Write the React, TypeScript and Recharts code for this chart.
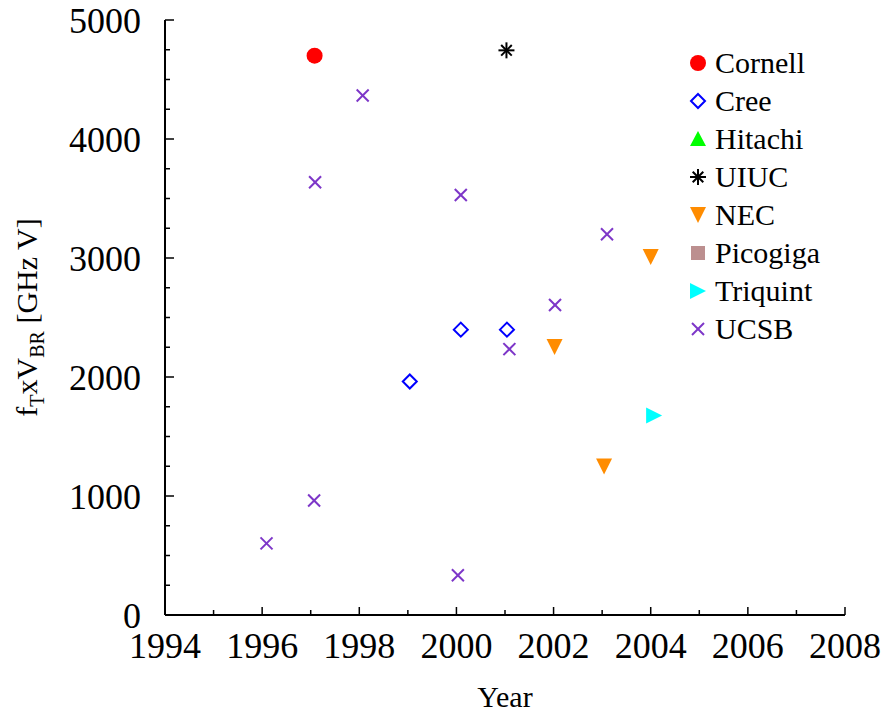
import React from "react";
import { ScatterChart, Scatter, XAxis, YAxis, Legend } from "recharts";

// Device results: year of report vs. fT x VBR product (GHz V)
const cornell = [{ x: 1997.08, y: 4700 }];
const cree = [
  { x: 1999.04, y: 1962 },
  { x: 2000.09, y: 2398 },
  { x: 2001.04, y: 2398 },
];
const hitachi: { x: number; y: number }[] = [];
const uiuc = [{ x: 2001.03, y: 4745 }];
const nec = [
  { x: 2002.02, y: 2253 },
  { x: 2003.04, y: 1248 },
  { x: 2004.0, y: 3008 },
];
const picogiga: { x: number; y: number }[] = [];
const triquint = [{ x: 2004.07, y: 1677 }];
const ucsb = [
  { x: 1996.09, y: 602 },
  { x: 1997.07, y: 962 },
  { x: 1997.09, y: 3636 },
  { x: 1998.07, y: 4366 },
  { x: 2000.03, y: 334 },
  { x: 2000.09, y: 3530 },
  { x: 2001.09, y: 2234 },
  { x: 2002.03, y: 2605 },
  { x: 2003.1, y: 3200 },
];

const yearTicks = [1994, 1995, 1996, 1997, 1998, 1999, 2000, 2001, 2002, 2003, 2004, 2005, 2006, 2007, 2008];
const valueTicks = [0, 250, 500, 750, 1000, 1250, 1500, 1750, 2000, 2250, 2500, 2750, 3000, 3250, 3500, 3750, 4000, 4250, 4500, 4750, 5000];

type Kind = "circle" | "diamond" | "triUp" | "star" | "triDown" | "square" | "triRight" | "cross";

const SERIES: { name: string; data: { x: number; y: number }[]; kind: Kind; color: string }[] = [
  { name: "Cornell", data: cornell, kind: "circle", color: "#ff0000" },
  { name: "Cree", data: cree, kind: "diamond", color: "#0000ff" },
  { name: "Hitachi", data: hitachi, kind: "triUp", color: "#00ff00" },
  { name: "UIUC", data: uiuc, kind: "star", color: "#000000" },
  { name: "NEC", data: nec, kind: "triDown", color: "#ff8c00" },
  { name: "Picogiga", data: picogiga, kind: "square", color: "#bc8f8f" },
  { name: "Triquint", data: triquint, kind: "triRight", color: "#00ffff" },
  { name: "UCSB", data: ucsb, kind: "cross", color: "#7d36c8" },
];

const FONT = "Liberation Serif, Times New Roman, serif";
const serif = (size: number): React.CSSProperties => ({ fontFamily: FONT, fontSize: size });

function marker(kind: Kind, cx: number, cy: number, color: string) {
  const s = 8;
  switch (kind) {
    case "circle":
      return <circle cx={cx} cy={cy} r={s} fill={color} />;
    case "diamond":
      return (
        <polygon
          points={`${cx},${cy - s + 1} ${cx + s - 1},${cy} ${cx},${cy + s - 1} ${cx - s + 1},${cy}`}
          fill="none"
          stroke={color}
          strokeWidth={2}
        />
      );
    case "triUp":
      return <polygon points={`${cx},${cy - s} ${cx + s},${cy + s - 1} ${cx - s},${cy + s - 1}`} fill={color} />;
    case "triDown":
      return <polygon points={`${cx - s},${cy - s} ${cx + s},${cy - s} ${cx},${cy + s}`} fill={color} />;
    case "triRight":
      return <polygon points={`${cx - s},${cy - s} ${cx + s},${cy} ${cx - s},${cy + s}`} fill={color} />;
    case "square":
      return <rect x={cx - 7} y={cy - 7} width={14} height={14} fill={color} />;
    case "star": {
      const d = 5.3;
      return (
        <g stroke={color} strokeWidth={2}>
          <line x1={cx} y1={cy - s} x2={cx} y2={cy + s} />
          <line x1={cx - s} y1={cy} x2={cx + s} y2={cy} />
          <line x1={cx - d} y1={cy - d} x2={cx + d} y2={cy + d} />
          <line x1={cx - d} y1={cy + d} x2={cx + d} y2={cy - d} />
        </g>
      );
    }
    case "cross":
    default:
      return (
        <g stroke={color} strokeWidth={2}>
          <line x1={cx - 6} y1={cy - 6} x2={cx + 6} y2={cy + 6} />
          <line x1={cx - 6} y1={cy + 6} x2={cx + 6} y2={cy - 6} />
        </g>
      );
  }
}

const BottomTick = (props: any) => {
  const { x, y, payload } = props;
  const v = payload.value as number;
  const major = v % 2 === 0;
  return (
    <g>
      <line x1={x} x2={x} y1={y} y2={y - (major ? 8 : 5)} stroke="#000" strokeWidth={1.5} />
      {major && (
        <text x={x} y={y + 43} textAnchor="middle" style={serif(36)} fill="#000">
          {v}
        </text>
      )}
    </g>
  );
};

const TopTick = (props: any) => {
  const { x, y, payload } = props;
  const major = (payload.value as number) % 2 === 0;
  return <line x1={x} x2={x} y1={y} y2={y + (major ? 8 : 5)} stroke="#000" strokeWidth={1.5} />;
};

const LeftTick = (props: any) => {
  const { x, y, payload } = props;
  const v = payload.value as number;
  const major = v % 1000 === 0;
  return (
    <g>
      <line x1={x} x2={x + (major ? 9 : 5)} y1={y} y2={y} stroke="#000" strokeWidth={1.5} />
      {major && (
        <text x={x - 24} y={y + 13} textAnchor="end" style={serif(36)} fill="#000">
          {v}
        </text>
      )}
    </g>
  );
};

const RightTick = (props: any) => {
  const { x, y, payload } = props;
  const major = (payload.value as number) % 1000 === 0;
  return <line x1={x} x2={x - (major ? 9 : 5)} y1={y} y2={y} stroke="#000" strokeWidth={1.5} />;
};

const YTitle = (props: any) => {
  const vb = props.viewBox || { x: 0, y: 20, width: 165, height: 595 };
  const cx = vb.x + 37;
  const cy = vb.y + vb.height / 2;
  return (
    <text
      x={cx}
      y={cy}
      transform={`rotate(-90, ${cx}, ${cy})`}
      textAnchor="middle"
      style={serif(30)}
      fill="#000"
    >
      f
      <tspan style={serif(20)} dy={7}>T</tspan>
      <tspan style={serif(30)} dy={-7}>x</tspan>
      <tspan style={serif(30)}>V</tspan>
      <tspan style={serif(20)} dy={7}>BR</tspan>
      <tspan style={serif(30)} dy={-7}> [GHz V]</tspan>
    </text>
  );
};

const XTitle = (props: any) => {
  const vb = props.viewBox || { x: 165, y: 615, width: 680, height: 101 };
  return (
    <text x={vb.x + vb.width / 2} y={vb.y + 92} textAnchor="middle" style={serif(30)} fill="#000">
      Year
    </text>
  );
};

const LegendBox = () => (
  <svg width={180} height={310} style={{ display: "block" }}>
    {SERIES.map((s, i) => {
      const cy = 23 + i * 38;
      return (
        <g key={s.name}>
          {marker(s.kind, 18, cy, s.color)}
          <text x={35} y={cy + 10} style={serif(30)} fill="#000">
            {s.name}
          </text>
        </g>
      );
    })}
  </svg>
);

export default function App() {
  return (
    <div style={{ position: "absolute", left: 0, top: 0, background: "#fff" }}>
      <ScatterChart width={882} height={716} margin={{ top: 20, right: 37, bottom: 0, left: 0 }}>
        <XAxis
          type="number"
          dataKey="x"
          domain={[1994, 2008]}
          ticks={yearTicks}
          interval={0}
          height={101}
          tickSize={0}
          tickMargin={0}
          tickLine={false}
          axisLine={{ stroke: "#000", strokeWidth: 2 }}
          tick={<BottomTick />}
          allowDataOverflow
          label={<XTitle />}
        />
        <XAxis
          xAxisId="top"
          orientation="top"
          type="number"
          dataKey="x"
          domain={[1994, 2008]}
          ticks={yearTicks}
          interval={0}
          height={0}
          tickSize={0}
          tickMargin={0}
          tickLine={false}
          axisLine={{ stroke: "#000", strokeWidth: 2 }}
          tick={<TopTick />}
          allowDataOverflow
        />
        <YAxis
          type="number"
          dataKey="y"
          domain={[0, 5000]}
          ticks={valueTicks}
          interval={0}
          width={165}
          tickSize={0}
          tickMargin={0}
          tickLine={false}
          axisLine={{ stroke: "#000", strokeWidth: 2 }}
          tick={<LeftTick />}
          allowDataOverflow
          label={<YTitle />}
        />
        <YAxis
          yAxisId="right"
          orientation="right"
          type="number"
          dataKey="y"
          domain={[0, 5000]}
          ticks={valueTicks}
          interval={0}
          width={0}
          tickSize={0}
          tickMargin={0}
          tickLine={false}
          axisLine={{ stroke: "#000", strokeWidth: 2 }}
          tick={<RightTick />}
          allowDataOverflow
        />
        <Legend
          layout="horizontal"
          verticalAlign="middle"
          align="center"
          content={() => <LegendBox />}
          wrapperStyle={{ position: "absolute", left: 680, top: 40, width: 180, height: 310 }}
        />
        {SERIES.map((s) => (
          <Scatter
            key={s.name}
            name={s.name}
            data={s.data}
            fill={s.color}
            isAnimationActive={false}
            shape={(p: any) => marker(s.kind, p.cx, p.cy, s.color)}
          />
        ))}
      </ScatterChart>
    </div>
  );
}
